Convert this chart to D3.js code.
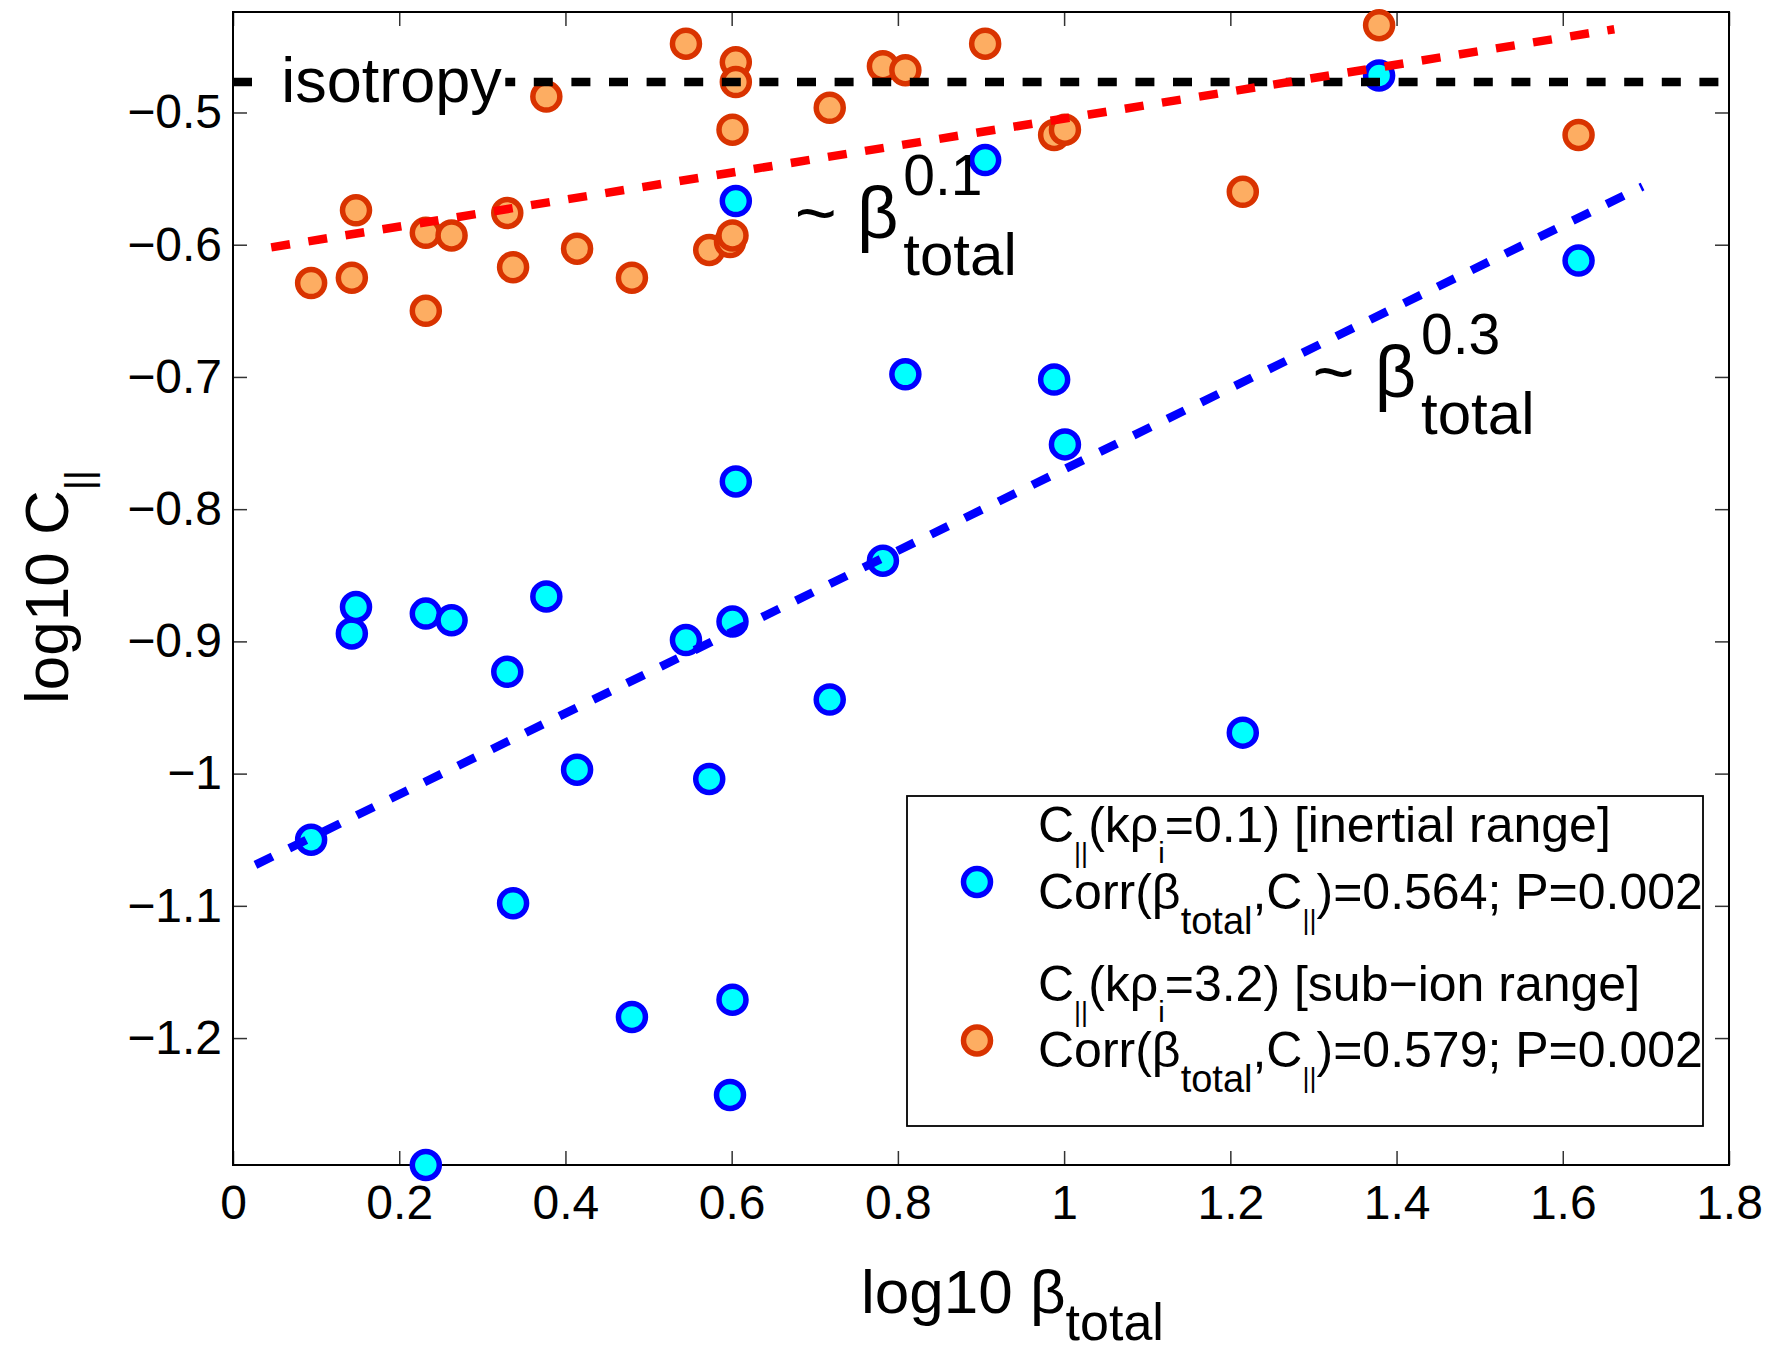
<!DOCTYPE html>
<html>
<head>
<meta charset="utf-8">
<script src="https://cdn.jsdelivr.net/npm/d3@7"></script>
<style>
  body { margin: 0; background: #fff; }
  text { font-family: "Liberation Sans", Arial, Helvetica, sans-serif; fill: #000; }
</style>
</head>
<body>
<svg id="chart"></svg>
<script>
/* values */
const logBeta = [0.094, 0.143, 0.148, 0.232, 0.232, 0.263, 0.330, 0.337, 0.377, 0.414,
                 0.480, 0.545, 0.573, 0.598, 0.601, 0.601, 0.605, 0.605, 0.718, 0.782,
                 0.809, 0.905, 0.988, 1.001, 1.215, 1.379, 1.619];
// C|| at k rho_i = 0.1 (inertial range)
const cInertial = [-1.050, -0.894, -0.874, -0.879, -1.296, -0.884, -0.923, -1.098, -0.866, -0.997,
                   -1.184, -0.899, -1.004, -1.243, -0.885, -1.171, -0.779, -0.567, -0.944, -0.839,
                   -0.698, -0.536, -0.702, -0.751, -0.969, -0.472, -0.612];
// C|| at k rho_i = 3.2 (sub-ion range)
const cSubIon = [-0.629, -0.625, -0.574, -0.591, -0.650, -0.593, -0.576, -0.617, -0.488, -0.603,
                 -0.625, -0.448, -0.604, -0.598, -0.593, -0.513, -0.462, -0.477, -0.4965, -0.465,
                 -0.468, -0.448, -0.517, -0.513, -0.560, -0.434, -0.517];

// dashed fits and isotropy level
const inertialFitX = [0.027, 1.696], inertialFitY = [-1.069, -0.556];
const subIonFitX = [0.046, 1.662], subIonFitY = [-0.602, -0.437];
const isotropyX = [0, 1.8], isotropyY = -0.477;

const xTicks = [0, 0.2, 0.4, 0.6, 0.8, 1, 1.2, 1.4, 1.6, 1.8];
const yTicks = [-1.2, -1.1, -1, -0.9, -0.8, -0.7, -0.6, -0.5];
const xDomain = [0, 1.8], yDomain = [-1.296, -0.424];

const width = 1772, height = 1352;
const plotLeft = 233, plotRight = 1729, plotTop = 12, plotBottom = 1165;
const font = '"Liberation Sans", Arial, Helvetica, sans-serif';

const svg = d3.select("#chart").attr("width", width).attr("height", height);

const x = d3.scaleLinear().domain(xDomain).range([plotLeft, plotRight]);
const y = d3.scaleLinear().domain(yDomain).range([plotBottom, plotTop]);

// text with sub/superscript parts: strings at base size, objects {t, size, dy}
function richText(sel, parts, size) {
  let shift = 0;
  parts.forEach(p => {
    const s = typeof p !== "string";
    const target = s ? p.dy : 0;
    sel.append("tspan")
      .attr("dy", target - shift)
      .attr("font-size", s ? p.size : size)
      .text(s ? p.t : p);
    shift = target;
  });
  return sel;
}

/* axes, ticks pointing inward on all four sides */
const fmt = d3.format("~g");
function styleAxis(g) {
  g.select(".domain").remove();
  g.selectAll(".tick line").attr("stroke", "#333").attr("stroke-width", 1.5);
  g.selectAll(".tick text").attr("font-size", 48).attr("font-family", font).attr("fill", "#000");
}
svg.append("g").attr("transform", `translate(0,${plotBottom})`)
  .call(d3.axisBottom(x).tickValues(xTicks).tickFormat(fmt).tickSize(-14).tickPadding(20))
  .call(styleAxis);
svg.append("g").attr("transform", `translate(0,${plotTop})`)
  .call(d3.axisTop(x).tickValues(xTicks).tickFormat("").tickSize(-14))
  .call(styleAxis);
svg.append("g").attr("transform", `translate(${plotLeft},0)`)
  .call(d3.axisLeft(y).tickValues(yTicks).tickFormat(fmt).tickSize(-14).tickPadding(11))
  .call(styleAxis);
svg.append("g").attr("transform", `translate(${plotRight},0)`)
  .call(d3.axisRight(y).tickValues(yTicks).tickFormat("").tickSize(-14))
  .call(styleAxis);

svg.append("rect")
  .attr("x", plotLeft).attr("y", plotTop)
  .attr("width", plotRight - plotLeft).attr("height", plotBottom - plotTop)
  .attr("fill", "none").attr("stroke", "#000").attr("stroke-width", 2);

/* points */
const blueStyle = { fill: "#00ffff", stroke: "#0000ff" };
const orangeStyle = { fill: "#fdad62", stroke: "#d93300" };
const markR = 13.5, markW = 5.5;

function drawPoints(vals, st) {
  svg.append("g")
    .selectAll("circle")
    .data(vals)
    .join("circle")
      .attr("cx", (d, i) => x(logBeta[i]))
      .attr("cy", d => y(d))
      .attr("r", markR)
      .attr("fill", st.fill)
      .attr("stroke", st.stroke)
      .attr("stroke-width", markW);
}
drawPoints(cInertial, blueStyle);
drawPoints(cSubIon, orangeStyle);

/* dashed lines */
const line = d3.line().x(d => x(d[0])).y(d => y(d[1]));
function dashed(xs, ys, color) {
  svg.append("path")
    .attr("d", line(d3.zip(xs, ys)))
    .attr("fill", "none")
    .attr("stroke", color)
    .attr("stroke-width", 8.5)
    .attr("stroke-dasharray", "19,18.6");
}
dashed(isotropyX, isotropyX.map(() => isotropyY), "#000");
dashed(subIonFitX, subIonFitY, "#ff0000");
dashed(inertialFitX, inertialFitY, "#0000ff");

/* isotropy label on a white box */
const isoG = svg.append("g");
const isoText = isoG.append("text")
  .attr("x", x(0.058)).attr("y", y(isotropyY) + 20)
  .attr("font-size", 63)
  .text("isotropy");
const bb = isoText.node().getBBox();
isoG.insert("rect", "text")
  .attr("x", bb.x - 14).attr("y", bb.y - 2)
  .attr("width", bb.width + 17).attr("height", bb.height + 4)
  .attr("fill", "#fff");

/* power-law annotations */
function powerLabel(xv, yv, exp) {
  const px = x(xv), py = y(yv);
  const main = svg.append("text").attr("x", px).attr("y", py).attr("font-size", 72).text("~ β");
  const end = px + main.node().getComputedTextLength() + 5;
  svg.append("text").attr("x", end).attr("y", py - 43).attr("font-size", 57).text(exp);
  svg.append("text").attr("x", end).attr("y", py + 37).attr("font-size", 60).text("total");
}
powerLabel(0.676, -0.595, "0.1");
powerLabel(1.299, -0.715, "0.3");

/* axis labels */
richText(svg.append("text").attr("x", 861).attr("y", 1313).attr("font-size", 62),
  ["log10 β", { t: "total", size: 52, dy: 27 }], 62);
richText(svg.append("text")
    .attr("transform", "translate(68,587) rotate(-90)")
    .attr("text-anchor", "middle").attr("font-size", 62),
  ["log10 C", { t: "||", size: 39, dy: 24 }], 62);

/* legend */
const par = { t: "||", size: 27, dy: 20 };
const ion = { t: "i", size: 29, dy: 21 };
const tot = { t: "total", size: 38, dy: 25 };
const legendEntries = [
  { style: blueStyle,
    lines: [["C", par, "(kρ", ion, "=0.1) [inertial range]"],
            ["Corr(β", tot, ",C", par, ")=0.564; P=0.002"]] },
  { style: orangeStyle,
    lines: [["C", par, "(kρ", ion, "=3.2) [sub−ion range]"],
            ["Corr(β", tot, ",C", par, ")=0.579; P=0.002"]] }
];

const lg = svg.append("g");
lg.append("rect")
  .attr("x", 907).attr("y", 796).attr("width", 796).attr("height", 330)
  .attr("fill", "#fff").attr("stroke", "#000").attr("stroke-width", 1.8);
legendEntries.forEach((e, i) => {
  const y0 = 842 + i * 158.5;
  lg.append("circle")
    .attr("cx", 977).attr("cy", y0 + 40)
    .attr("r", markR)
    .attr("fill", e.style.fill).attr("stroke", e.style.stroke).attr("stroke-width", markW);
  e.lines.forEach((parts, j) => {
    richText(lg.append("text").attr("x", 1038).attr("y", y0 + j * 66.5).attr("font-size", 50),
      parts, 50);
  });
});
</script>
</body>
</html>
